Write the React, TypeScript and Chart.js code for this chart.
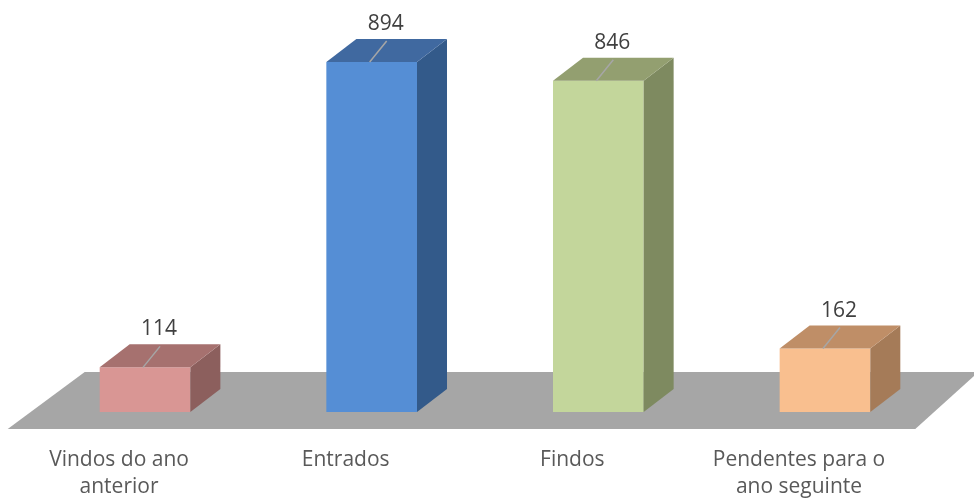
import React, { useEffect, useRef } from "react";
import { Chart, registerables } from "chart.js";

Chart.register(...registerables);

const categories: string[][] = [
  ["Vindos do ano", "anterior"],
  ["Entrados"],
  ["Findos"],
  ["Pendentes para o", "ano seguinte"],
];
const values: number[] = [114, 894, 846, 162];
const frontColors: string[] = ["#D99694", "#558ED5", "#C3D69B", "#F9BF8F"];
const topColors: string[] = ["#A6716F", "#4069A0", "#939F70", "#BF8E67"];
const sideColors: string[] = ["#8C5F5D", "#335A8A", "#7E8A60", "#A57B58"];

const FONT = "'Open Sans', sans-serif";
const DX = 30;
const DY = 23;

const threeD = {
  id: "threeD",
  beforeDatasetsDraw(chart: any) {
    const { ctx, chartArea } = chart;
    const y0 = chart.scales.y.getPixelForValue(0);
    ctx.save();
    ctx.fillStyle = "#A6A6A6";
    ctx.beginPath();
    ctx.moveTo(chartArea.left - 24, y0 + 17);
    ctx.lineTo(chartArea.left + 53, y0 - 40);
    ctx.lineTo(chartArea.right + 40, y0 - 40);
    ctx.lineTo(chartArea.right - 23, y0 + 17);
    ctx.closePath();
    ctx.fill();
    ctx.restore();
  },
  afterDatasetsDraw(chart: any) {
    const { ctx } = chart;
    const meta = chart.getDatasetMeta(0);
    ctx.save();
    meta.data.forEach((bar: any, i: number) => {
      const { x, y, base, width } = bar.getProps(["x", "y", "base", "width"], true);
      const l = x - width / 2;
      const r = x + width / 2;
      // side
      ctx.fillStyle = sideColors[i];
      ctx.beginPath();
      ctx.moveTo(r, y);
      ctx.lineTo(r + DX, y - DY);
      ctx.lineTo(r + DX, base - DY);
      ctx.lineTo(r, base);
      ctx.closePath();
      ctx.fill();
      // top
      ctx.fillStyle = topColors[i];
      ctx.beginPath();
      ctx.moveTo(l, y);
      ctx.lineTo(l + DX, y - DY);
      ctx.lineTo(r + DX, y - DY);
      ctx.lineTo(r, y);
      ctx.closePath();
      ctx.fill();
      // leader line
      ctx.strokeStyle = "#A6A6A6";
      ctx.lineWidth = 1.5;
      ctx.beginPath();
      ctx.moveTo(x - 2, y);
      ctx.lineTo(x + 15, y - 21);
      ctx.stroke();
      // value label
      ctx.fillStyle = "#404040";
      ctx.font = `21px ${FONT}`;
      ctx.textAlign = "center";
      ctx.textBaseline = "middle";
      ctx.fillText(String(values[i]), x + 14, y - 38);
      // category label
      ctx.fillStyle = "#595959";
      categories[i].forEach((line, j) => {
        ctx.fillText(line, x - 26, 460 + j * 27);
      });
    });
    ctx.restore();
  },
};

export default function App() {
  const ref = useRef<HTMLCanvasElement>(null);
  useEffect(() => {
    const chart = new Chart(ref.current as HTMLCanvasElement, {
      type: "bar",
      data: {
        labels: categories.map((c) => c.join(" ")),
        datasets: [
          {
            data: values,
            backgroundColor: frontColors,
            borderWidth: 0,
            categoryPercentage: 1,
            barPercentage: 0.4,
          },
        ],
      },
      options: {
        responsive: false,
        animation: false,
        layout: { padding: { left: 31.7, right: 35.7, top: 20.5, bottom: 87 } },
        plugins: { legend: { display: false }, tooltip: { enabled: false } },
        scales: {
          x: { display: false },
          y: { display: false, min: 0, max: 1000 },
        },
      },
      plugins: [threeD],
    });
    return () => chart.destroy();
  }, []);
  return (
    <div style={{ position: "fixed", left: 0, top: 0, width: 974, height: 499, background: "#fff" }}>
      <canvas ref={ref} width={974} height={499} />
    </div>
  );
}
